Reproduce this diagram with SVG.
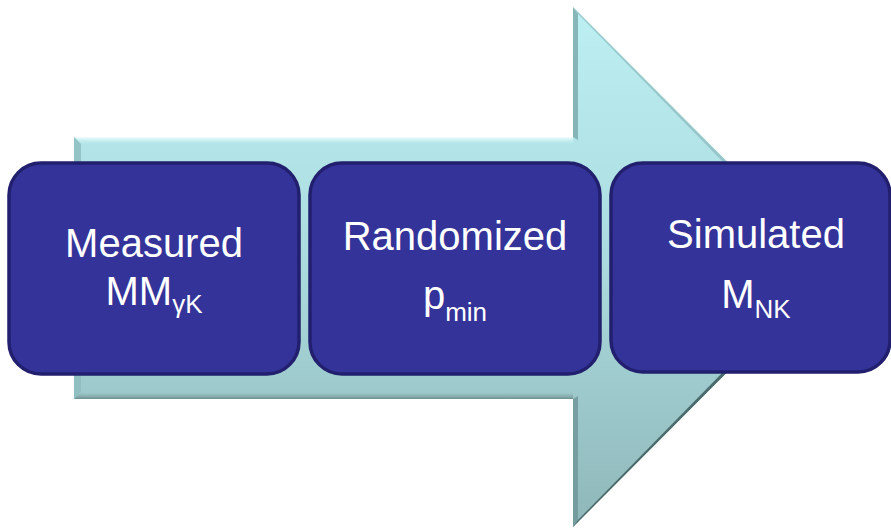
<svg xmlns="http://www.w3.org/2000/svg" width="891" height="528" viewBox="0 0 891 528">
  <defs>
    <linearGradient id="arrowFill" x1="0" y1="7" x2="0" y2="527" gradientUnits="userSpaceOnUse">
      <stop offset="0" stop-color="#bdf0f3"/>
      <stop offset="0.5" stop-color="#aadadd"/>
      <stop offset="1" stop-color="#8fb7b9"/>
    </linearGradient>
    <linearGradient id="topBevel" x1="0" y1="0" x2="0" y2="1">
      <stop offset="0" stop-color="#f2ffff"/>
      <stop offset="1" stop-color="#c8f4f6" stop-opacity="0"/>
    </linearGradient>
    <linearGradient id="bottomBevel" x1="0" y1="0" x2="0" y2="1">
      <stop offset="0" stop-color="#8fb3b3" stop-opacity="0"/>
      <stop offset="1" stop-color="#6c8f8f"/>
    </linearGradient>
  </defs>
  <style>
    .box { fill: #333399; stroke: #22206e; stroke-width: 3.5; }
    .label { font-family: "Liberation Sans", Arial, sans-serif; font-size: 40px; fill: #ffffff; text-anchor: middle; }
    .sub { font-size: 26px; }
  </style>

  <!-- background process arrow -->
  <g id="arrow">
    <path d="M74,137 H573 V7 L832,267 L573,527 V399 H74 Z" fill="url(#arrowFill)"/>
    <!-- bevels -->
    <path d="M74,137 H573 V144 H81 Z" fill="url(#topBevel)"/>
    <path d="M74,137 L81,144 V392 L74,399 Z" fill="#8dbcbe" opacity="0.8"/>
    <path d="M74,399 H573 V392 H81 Z" fill="url(#bottomBevel)"/>
    <path d="M573,7 L578,14 V140 L573,137 Z" fill="#7aa9ab" opacity="0.8"/>
    <path d="M573,399 L578,396 V520 L573,527 Z" fill="#6e9597" opacity="0.8"/>
    <path d="M573,7 L832,267 L826,267 L578,14 Z" fill="#84b3b5" opacity="0.6"/>
    <path d="M832,267 L573,527 L578,520 L826,267 Z" fill="#4a6a6b"/>
  </g>

  <g id="node-measured">
    <rect class="box" x="9" y="163" width="290" height="211" rx="32"/>
    <text class="label" x="154" y="257">Measured</text>
    <text class="label" x="154" y="305">MM<tspan class="sub" dy="8">γK</tspan></text>
  </g>

  <g id="node-randomized">
    <rect class="box" x="310" y="163" width="290" height="211" rx="32"/>
    <text class="label" x="455" y="250">Randomized</text>
    <text class="label" x="455" y="309">p<tspan class="sub" dy="12">min</tspan></text>
  </g>

  <g id="node-simulated">
    <rect class="box" x="611" y="163" width="279" height="209" rx="32"/>
    <text class="label" x="756" y="248">Simulated</text>
    <text class="label" x="756" y="308">M<tspan class="sub" dy="10">NK</tspan></text>
  </g>

  <g id="connectors"/>
</svg>
